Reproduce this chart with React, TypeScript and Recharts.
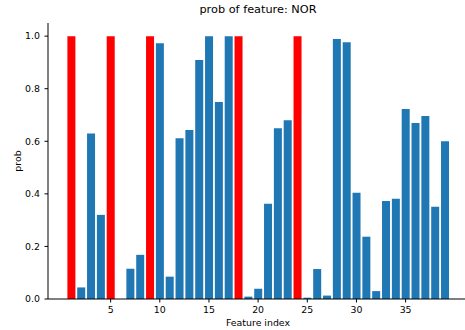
import { BarChart, Bar, XAxis, YAxis, Cell, Label } from 'recharts';

const featureIndex = [
  1, 2, 3, 4, 5, 6, 7, 8, 9, 10, 11, 12, 13, 14, 15, 16, 17, 18, 19, 20,
  21, 22, 23, 24, 25, 26, 27, 28, 29, 30, 31, 32, 33, 34, 35, 36, 37, 38, 39,
];
const probs = [
  1.0, 0.044, 0.63, 0.32, 1.0, 0.0, 0.115, 0.168, 1.0, 0.973, 0.085, 0.612, 0.643, 0.909, 1.0, 0.749, 1.0, 1.0, 0.009, 0.039,
  0.362, 0.65, 0.68, 1.0, 0.005, 0.114, 0.013, 0.989, 0.977, 0.404, 0.237, 0.03, 0.373, 0.381, 0.723, 0.67, 0.696, 0.351, 0.6,
];
const selectedFeatures = [1, 5, 9, 18, 24];
const xTicks = [5, 10, 15, 20, 25, 30, 35];
const yTicks = [0, 0.2, 0.4, 0.6, 0.8, 1.0];

const data = featureIndex.map((idx, i) => ({ idx, prob: probs[i] }));

const FONT = 'DejaVu Sans, sans-serif';
const tickStyle = { fontSize: 9.4, fill: '#000', fontFamily: FONT };

function YLabel({ viewBox }: any) {
  const cx = viewBox.x + 17;
  const cy = viewBox.y + viewBox.height / 2;
  return (
    <text x={cx} y={cy} transform={`rotate(-90 ${cx} ${cy})`} textAnchor="middle"
      dominantBaseline="central" fontSize={9.4} fontFamily={FONT} fill="#000">
      prob
    </text>
  );
}

function XLabel({ viewBox }: any) {
  return (
    <text x={viewBox.x + 210} y={viewBox.y + 27} textAnchor="middle"
      fontSize={9.4} fontFamily={FONT} fill="#000">
      Feature index
    </text>
  );
}

export default function App() {
  return (
    <div style={{ position: 'absolute', left: 0, top: 0, width: 465, height: 330, background: '#fff' }}>
      <div style={{
        position: 'absolute', top: 3, left: 0, width: 516, textAlign: 'center',
        fontFamily: FONT, fontSize: 11.3, color: '#000', lineHeight: '14px',
      }}>
        prob of feature: NOR
      </div>
      <BarChart width={465} height={330} data={data}
        margin={{ top: 23, right: 0, bottom: 0, left: 0 }}>
        <XAxis dataKey="idx" type="number" domain={[-1.37, 41.04]} allowDataOverflow
          ticks={xTicks} interval={0} height={31} tickSize={3.5} tickMargin={3.5}
          tick={tickStyle} axisLine={{ stroke: '#000', strokeWidth: 1 }}
          tickLine={{ stroke: '#000', strokeWidth: 1 }}>
          <Label content={<XLabel />} />
        </XAxis>
        <XAxis xAxisId="top" orientation="top" type="number" domain={[-1.37, 41.04]}
          height={0} tick={false} tickLine={false} axisLine={{ stroke: '#000', strokeWidth: 1 }} />
        <YAxis type="number" domain={[0, 1.05]} ticks={yTicks} width={48}
          tickFormatter={(v: number) => v.toFixed(1)} tickSize={3.5} tickMargin={4.5}
          tick={tickStyle} axisLine={{ stroke: '#000', strokeWidth: 1 }}
          tickLine={{ stroke: '#000', strokeWidth: 1 }}>
          <Label content={<YLabel />} />
        </YAxis>
        <Bar dataKey="prob" barSize={8} isAnimationActive={false}>
          {data.map((d) => (
            <Cell key={d.idx} fill={selectedFeatures.includes(d.idx) ? '#ff0000' : '#1f77b4'} />
          ))}
        </Bar>
      </BarChart>
    </div>
  );
}
